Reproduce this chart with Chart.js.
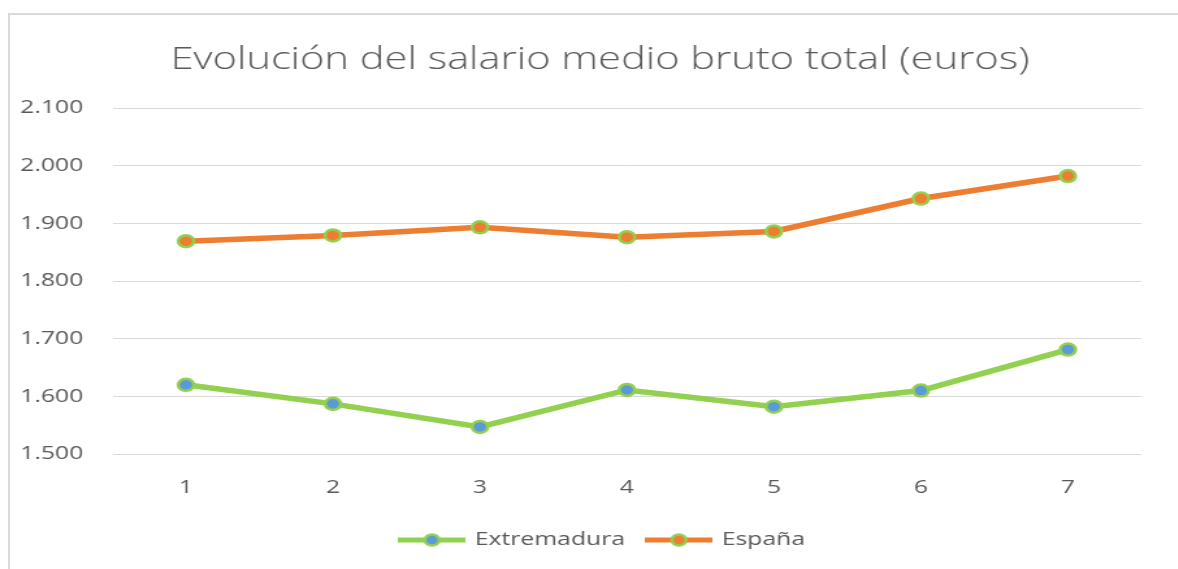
<!DOCTYPE html>
<html lang="es">
  <head>
    <meta charset="UTF-8" />
    <title>Evolución del salario medio bruto total</title>
    <script src="https://cdn.jsdelivr.net/npm/chart.js"></script>
    <style>
      html, body { margin: 0; padding: 0; background: #fff; overflow: hidden; }
      .frame {
        position: absolute; left: 8px; top: 13px; width: 1300px; height: 700px;
        border-left: 2px solid #d9d9d9; border-top: 2px solid #d9d9d9;
      }
      .stretch {
        position: absolute; left: 0; top: 0; width: 906px; height: 569px;
        transform: scaleX(1.3); transform-origin: 0 0;
      }
    </style>
  </head>
  <body>
    <div class="frame"></div>
    <div class="stretch">
      <canvas id="salaryChart" width="906" height="569"></canvas>
    </div>

    <script>
      const periods = ["1", "2", "3", "4", "5", "6", "7"];
      const extremadura = [1620, 1587, 1547, 1611, 1582, 1610, 1681];
      const espana = [1869, 1879, 1893, 1876, 1886, 1943, 1982];
      const yTicks = { min: 1500, max: 2100, step: 100 };

      const green = "#92D050";
      const orange = "#ED7D31";
      const blue = "#5B9BD5";
      const textGrey = "#595959";

      Chart.defaults.font.family = "'Open Sans', sans-serif";
      Chart.defaults.color = textGrey;

      // legend marker: a short line with the point on it
      function legendMark(lineColor, fill) {
        const c = document.createElement("canvas");
        c.width = 52;
        c.height = 18;
        const ctx = c.getContext("2d");
        ctx.strokeStyle = lineColor;
        ctx.lineWidth = 5;
        ctx.beginPath();
        ctx.moveTo(0, 9);
        ctx.lineTo(52, 9);
        ctx.stroke();
        ctx.beginPath();
        ctx.arc(26, 9, 5.5, 0, Math.PI * 2);
        ctx.fillStyle = fill;
        ctx.fill();
        ctx.lineWidth = 2.5;
        ctx.strokeStyle = green;
        ctx.stroke();
        return c;
      }
      const marks = [legendMark(green, blue), legendMark(orange, orange)];

      const fmt = (v) => String(v).replace(/\B(?=(\d{3})+(?!\d))/g, ".");

      // title and legend sit a bit right of the canvas middle, like the original
      const nudgeBoxes = {
        id: "nudgeBoxes",
        afterLayout(chart) {
          chart.titleBlock.left += 45;
          chart.legend.left += 50;
        },
      };

      new Chart(document.getElementById("salaryChart"), {
        type: "line",
        data: {
          labels: periods,
          datasets: [
            {
              label: "Extremadura",
              data: extremadura,
              borderColor: green,
              borderWidth: 5.5,
              pointRadius: 6,
              pointBorderWidth: 2.5,
              pointBackgroundColor: blue,
              pointBorderColor: green,
              tension: 0,
            },
            {
              label: "España",
              data: espana,
              borderColor: orange,
              borderWidth: 5.5,
              pointRadius: 6,
              pointBorderWidth: 2.5,
              pointBackgroundColor: orange,
              pointBorderColor: green,
              tension: 0,
            },
          ],
        },
        plugins: [nudgeBoxes],
        options: {
          responsive: false,
          animation: false,
          layout: { padding: { left: 0, right: 28, top: 0, bottom: 9.5 } },
          plugins: {
            tooltip: { enabled: false },
            title: {
              display: true,
              text: "Evolución del salario medio bruto total (euros)",
              color: textGrey,
              font: { size: 32, weight: "300" },
              padding: { top: 40.8, bottom: 28.8 },
            },
            legend: {
              position: "bottom",
              labels: {
                usePointStyle: true,
                pointStyleWidth: 47,
                padding: 18,
                color: textGrey,
                font: { size: 19 },
                generateLabels: (chart) => {
                  const items = Chart.defaults.plugins.legend.labels.generateLabels(chart);
                  items.forEach((it, i) => { it.pointStyle = marks[i]; });
                  return items;
                },
              },
            },
          },
          scales: {
            x: {
              offset: true,
              grid: { display: false, drawTicks: false },
              border: { display: false },
              ticks: { padding: 22.6, font: { size: 19 }, color: textGrey },
              afterFit: (s) => { s.height = 58.5; },
            },
            y: {
              min: yTicks.min,
              max: yTicks.max,
              grid: { color: "#d9d9d9", lineWidth: 1, drawTicks: false },
              border: { display: false },
              ticks: {
                stepSize: yTicks.step,
                padding: 22.5,
                font: { size: 19 },
                color: textGrey,
                callback: (v) => fmt(v),
              },
              afterFit: (s) => { s.width = 86.5; },
            },
          },
        },
      });
    </script>
  </body>
</html>
